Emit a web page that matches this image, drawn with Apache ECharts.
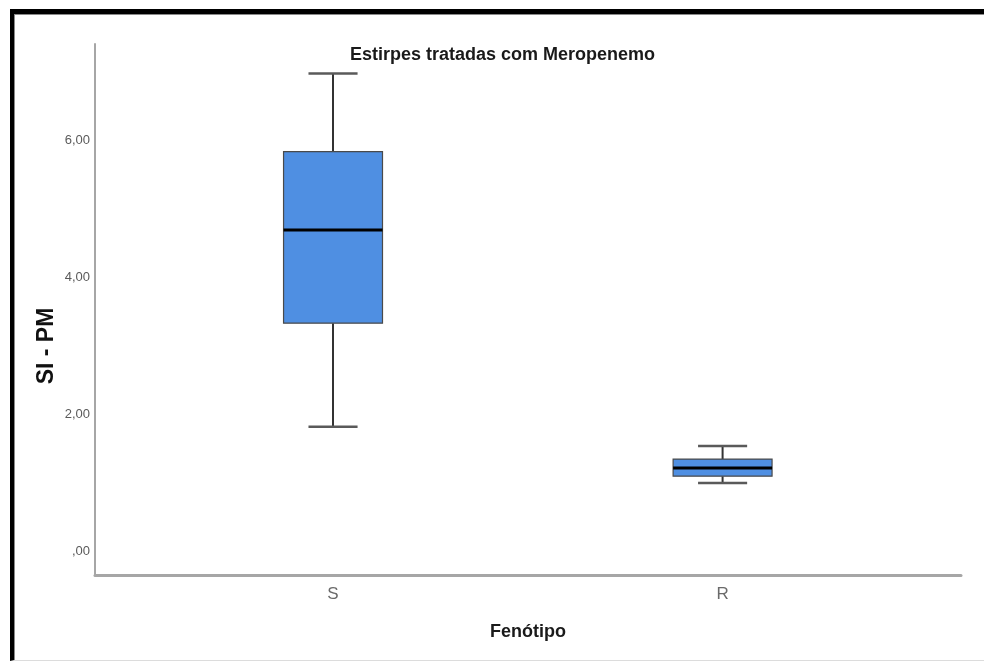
<!DOCTYPE html>
<html>
<head>
<meta charset="utf-8">
<title>Estirpes tratadas com Meropenemo</title>
<script src="https://cdn.jsdelivr.net/npm/echarts@6/dist/echarts.min.js"></script>
<style>
  html, body { margin: 0; padding: 0; background: #fff; }
  #chart { position: absolute; left: 0; top: 0; width: 984px; height: 662px; }
  #frame {
    position: absolute; left: 10px; top: 9px; right: 0; bottom: 1px;
    box-sizing: border-box;
    border-top: 5px solid #000;
    border-left: 4px solid #000;
    border-bottom: 1px solid #dcdcdc;
    box-shadow: inset 1px 1px 0 #8a8a8a;
    pointer-events: none;
  }
</style>
</head>
<body>
<div id="chart"></div>
<div id="frame"></div>
<script>
// Phenotype groups and their five-number summaries (SI - PM)
const categories = ['S', 'R'];
const minValues    = [1.82, 1.00];
const q1Values     = [3.33, 1.10];
const medianValues = [4.69, 1.22];
const q3Values     = [5.83, 1.35];
const maxValues    = [6.97, 1.54];

// Y tick positions and their SPSS-style labels
const yTickValues = [0, 2, 4, 6];
const yTickLabels = [',00', '2,00', '4,00', '6,00'];

const titleText = 'Estirpes tratadas com Meropenemo';
const xAxisTitle = 'Fenótipo';
const yAxisTitle = 'SI - PM';

const boxData = categories.map((c, i) => [i, minValues[i], q1Values[i], medianValues[i], q3Values[i], maxValues[i]]);

const FONT = '"Liberation Sans", Arial, sans-serif';

const chart = echarts.init(document.getElementById('chart'), null, { renderer: 'canvas' });

chart.setOption({
  animation: false,
  backgroundColor: '#fff',
  title: {
    text: titleText,
    left: 345,
    top: 41,
    textStyle: { fontFamily: FONT, fontSize: 18, fontWeight: 'bold', color: '#1a1a1a' }
  },
  graphic: [{
    type: 'text',
    x: 47,
    y: 346,
    rotation: Math.PI / 2,
    style: {
      text: yAxisTitle,
      fontFamily: FONT,
      fontSize: 23,
      fontWeight: 'bold',
      fill: '#111',
      align: 'center',
      verticalAlign: 'middle'
    }
  }],
  grid: { left: 95, right: 23, top: 44, bottom: 87 },
  xAxis: {
    type: 'value',
    min: -0.611,
    max: 1.612,
    splitLine: { show: false },
    axisTick: { show: false },
    axisLine: { show: true, onZero: false, lineStyle: { color: '#a6a6a6', width: 3 } },
    axisLabel: {
      customValues: categories.map((c, i) => i),
      formatter: v => categories[Math.round(v)] ?? '',
      fontFamily: FONT,
      fontSize: 17,
      color: '#6a6a6a',
      margin: 11
    },
    name: xAxisTitle,
    nameLocation: 'middle',
    nameGap: 48,
    nameTextStyle: { fontFamily: FONT, fontSize: 18, fontWeight: 'bold', color: '#1a1a1a' }
  },
  yAxis: {
    type: 'value',
    min: -0.34,
    max: 7.40,
    splitLine: { show: false },
    axisTick: { show: false },
    axisLine: { show: true, onZero: false, lineStyle: { color: '#a6a6a6', width: 2 } },
    axisLabel: {
      customValues: yTickValues,
      formatter: v => yTickLabels[yTickValues.indexOf(v)] ?? '',
      fontFamily: FONT,
      fontSize: 13,
      color: '#5a5a5a',
      margin: 5
    }
  },
  series: [{
    type: 'custom',
    data: boxData,
    encode: { x: 0, y: [1, 2, 3, 4, 5] },
    renderItem(params, api) {
      const x = api.value(0);
      const pMin = api.coord([x, api.value(1)]);
      const pQ1 = api.coord([x, api.value(2)]);
      const pMed = api.coord([x, api.value(3)]);
      const pQ3 = api.coord([x, api.value(4)]);
      const pMax = api.coord([x, api.value(5)]);
      const unit = api.size([1, 0])[0];
      const boxHalf = unit * 0.127;
      const capHalf = unit * 0.063;
      const cx = pMed[0];
      return {
        type: 'group',
        children: [
          { type: 'line', shape: { x1: cx, y1: pMax[1], x2: cx, y2: pQ3[1] }, style: { stroke: '#333', lineWidth: 2 } },
          { type: 'line', shape: { x1: cx, y1: pQ1[1], x2: cx, y2: pMin[1] }, style: { stroke: '#333', lineWidth: 2 } },
          { type: 'line', shape: { x1: cx - capHalf, y1: pMax[1], x2: cx + capHalf, y2: pMax[1] }, style: { stroke: '#5a5a5a', lineWidth: 2.5 } },
          { type: 'line', shape: { x1: cx - capHalf, y1: pMin[1], x2: cx + capHalf, y2: pMin[1] }, style: { stroke: '#5a5a5a', lineWidth: 2.5 } },
          { type: 'rect', shape: { x: cx - boxHalf, y: pQ3[1], width: boxHalf * 2, height: pQ1[1] - pQ3[1] },
            style: { fill: '#4f8fe2', stroke: '#4a4a4a', lineWidth: 1.2 } },
          { type: 'line', shape: { x1: cx - boxHalf, y1: pMed[1], x2: cx + boxHalf, y2: pMed[1] }, style: { stroke: '#000', lineWidth: 3 } }
        ]
      };
    }
  }]
});
</script>
</body>
</html>
